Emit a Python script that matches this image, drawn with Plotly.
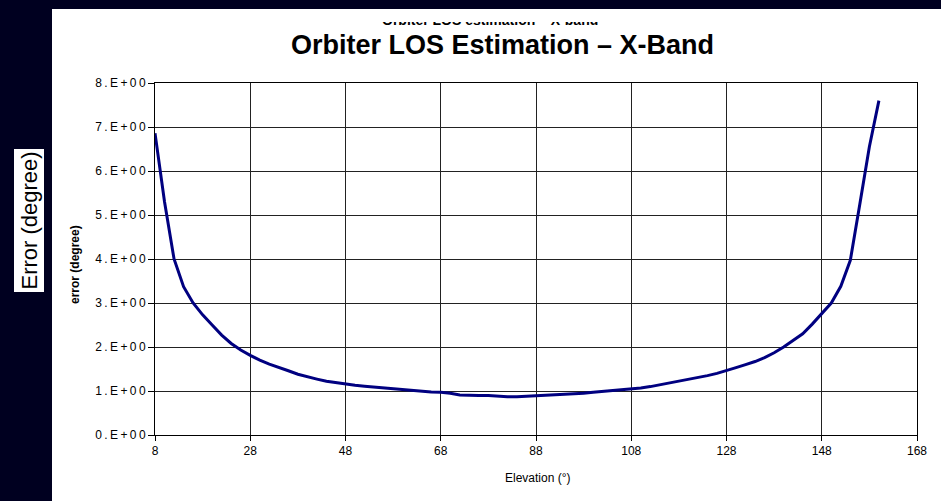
import plotly.graph_objects as go

elevation = [8, 10, 12, 14, 16, 18, 20, 22, 24, 26, 28, 30, 32, 34, 36, 38, 40, 42, 44, 46,
             48, 50, 52, 54, 56, 58, 60, 62, 64, 66, 68, 70, 72, 74, 76, 78, 80, 82, 84, 86,
             88, 90, 92, 94, 96, 98, 100, 102, 104, 106, 108, 110, 112, 114, 116, 118, 120,
             122, 124, 126, 128, 130, 132, 134, 136, 138, 140, 142, 144, 146, 148, 150, 152,
             154, 156, 158, 160]
error_deg = [6.86, 5.30, 4.00, 3.37, 3.00, 2.73, 2.50, 2.27, 2.08, 1.93, 1.81, 1.70, 1.61, 1.54,
             1.46, 1.38, 1.32, 1.27, 1.22, 1.19, 1.15, 1.13, 1.11, 1.09, 1.07, 1.05, 1.03, 1.01,
             0.99, 0.98, 0.97, 0.95, 0.91, 0.90, 0.90, 0.90, 0.88, 0.87, 0.87, 0.88, 0.90, 0.90,
             0.91, 0.93, 0.94, 0.95, 0.97, 0.99, 1.00, 1.02, 1.05, 1.07, 1.10, 1.14, 1.18, 1.22,
             1.26, 1.30, 1.35, 1.40, 1.46, 1.53, 1.60, 1.67, 1.76, 1.87, 2.00, 2.15, 2.30, 2.52,
             2.75, 3.00, 3.38, 3.97, 5.25, 6.55, 7.60]

y_tickvals = [0, 1, 2, 3, 4, 5, 6, 7, 8]
y_ticktext = ["0.E+00", "1.E+00", "2.E+00", "3.E+00", "4.E+00", "5.E+00", "6.E+00", "7.E+00", "8.E+00"]
x_tickvals = [8, 28, 48, 68, 88, 108, 128, 148, 168]

title_text = "Orbiter LOS Estimation \u2013 X-Band"
ghost_text = "Orbiter LOS estimation \u2013 X-band"
side_label = "Error (degree)"
y_title = "error (degree)"
x_title = "Elevation (\u00b0)"

W, H = 941, 501
L, R, T, B = 155, 24, 83, 66
pw, ph = W - L - R, H - T - B


def px(x):
    return (x - L) / pw


def py(y):
    return (H - B - y) / ph


FONT = "Arial, Liberation Sans, sans-serif"
thin = "\u2009"

fig = go.Figure()
fig.add_trace(go.Scatter(x=elevation, y=error_deg, mode="lines",
                         line=dict(color="#000080", width=3), showlegend=False,
                         hoverinfo="x+y"))

fig.update_layout(
    width=W, height=H,
    margin=dict(l=L, r=R, t=T, b=B),
    paper_bgcolor="#000020",
    plot_bgcolor="white",
    font=dict(family=FONT, color="black"),
    shapes=[dict(type="rect", xref="paper", yref="paper",
                 x0=px(52), x1=px(W + 5), y0=py(H + 5), y1=py(9),
                 fillcolor="white", line=dict(width=0), layer="below")],
)

fig.update_xaxes(range=[8, 168], tickvals=x_tickvals, ticktext=[str(v) for v in x_tickvals],
                 showgrid=True, gridcolor="#222", gridwidth=1,
                 showline=True, linecolor="black", linewidth=1, mirror=True,
                 ticks="outside", ticklen=5, tickcolor="black",
                 tickfont=dict(size=12, family=FONT, color="black"), zeroline=False)
fig.update_yaxes(range=[0, 8], tickvals=y_tickvals,
                 ticktext=[thin.join(t) for t in y_ticktext],
                 showgrid=True, gridcolor="#222", gridwidth=1,
                 showline=True, linecolor="black", linewidth=1, mirror=True,
                 ticks="outside", ticklen=6, tickcolor="black",
                 tickfont=dict(size=12, family=FONT, color="black"), zeroline=False)

annotations = [
    # ghost title, partially hidden
    dict(text="<b>" + ghost_text + "</b>", x=px(490), y=py(20), xref="paper", yref="paper",
         showarrow=False, font=dict(size=14, family=FONT, color="black"),
         xanchor="center", yanchor="middle"),
    # cover hiding the top of the ghost title
    dict(text=" ", x=px(490), y=py(22), xref="paper", yref="paper", showarrow=False,
         width=330, height=12, bgcolor="white", borderpad=0, borderwidth=0,
         xanchor="center", yanchor="bottom", font=dict(size=6)),
    dict(text="<b>" + title_text + "</b>", x=px(502), y=py(45), xref="paper", yref="paper",
         showarrow=False, font=dict(size=27, family=FONT, color="black"),
         xanchor="center", yanchor="middle"),
    dict(text=side_label, x=px(28.5), y=py(221), xref="paper", yref="paper",
         showarrow=False, textangle=-90, bgcolor="white", borderpad=2,
         font=dict(size=22, family=FONT, color="black"),
         xanchor="center", yanchor="middle"),
    dict(text="<b>" + y_title + "</b>", x=px(75), y=py(265), xref="paper", yref="paper",
         showarrow=False, textangle=-90, font=dict(size=12, family=FONT, color="black"),
         xanchor="center", yanchor="middle"),
    dict(text=x_title, x=px(538), y=py(478), xref="paper", yref="paper",
         showarrow=False, font=dict(size=12, family=FONT, color="black"),
         xanchor="center", yanchor="middle"),
]
fig.update_layout(annotations=annotations)

fig.write_html("out.html", config={"displayModeBar": False},
               post_script="document.body.style.margin='0';document.body.style.overflow='hidden';")
